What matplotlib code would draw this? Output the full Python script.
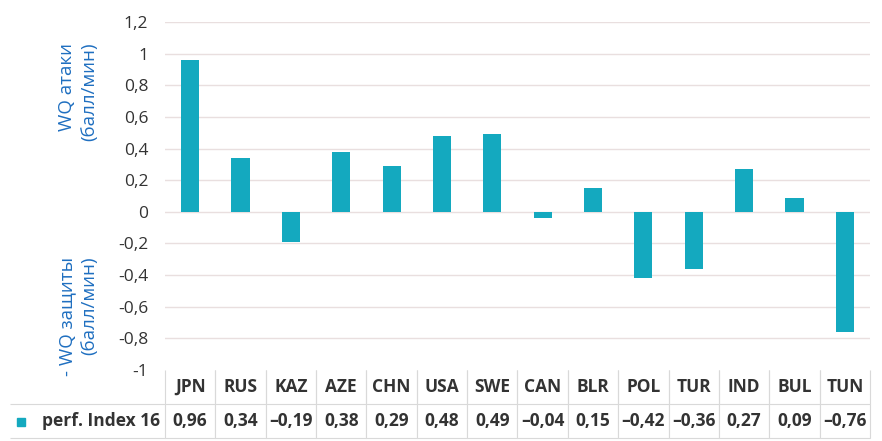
import numpy as np
import matplotlib.pyplot as plt
from matplotlib.lines import Line2D

countries = ['JPN', 'RUS', 'KAZ', 'AZE', 'CHN', 'USA', 'SWE', 'CAN',
             'BLR', 'POL', 'TUR', 'IND', 'BUL', 'TUN']
perf = [0.96, 0.34, -0.19, 0.38, 0.29, 0.48, 0.49, -0.04,
        0.15, -0.42, -0.36, 0.27, 0.09, -0.76]
series_name = 'perf. Index 16'
yticks = [-1, -0.8, -0.6, -0.4, -0.2, 0, 0.2, 0.4, 0.6, 0.8, 1, 1.2]

bar_color = '#14a9bf'
label_color = '#1f6fc0'
text_color = '#333333'
grid_color = '#e9dfdf'
font = 'Open Sans'


def fmt(v):
    s = ('%g' % v).replace('.', ',')
    return s.replace('-', '\u2013') if v < 0 else s


fig = plt.figure(figsize=(8.82, 4.41), dpi=100)
ax = fig.add_axes([165 / 882, 1 - 370 / 441, 705 / 882, 348 / 441])

x = np.arange(len(countries))
ax.bar(x, perf, width=0.36, color=bar_color, zorder=3)
ax.set_xlim(-0.5, len(countries) - 0.5)
ax.set_ylim(-1, 1.2)
ax.set_yticks(yticks)
ax.set_yticklabels([('%g' % t).replace('.', ',') for t in yticks],
                   fontsize=12.5, color=text_color, family=font)
ax.set_xticks([])
ax.tick_params(axis='y', length=0, pad=12)
for s in ax.spines.values():
    s.set_visible(False)
for t in yticks[1:]:
    ax.axhline(t, color=grid_color, lw=1, zorder=1)

# axis captions for attack (top) and defence (bottom)
fig.text(78 / 882, 1 - 92 / 441, 'WQ атаки\n(балл/мин)', rotation=90,
         ha='center', va='center', multialignment='right', fontsize=13.5,
         color=label_color, family=font, linespacing=1.25)
fig.text(78 / 882, 1 - 316 / 441, '- WQ защиты\n(балл/мин)', rotation=90,
         ha='center', va='center', multialignment='right', fontsize=13.5,
         color=label_color, family=font, linespacing=1.25)

# data table below the plot
cells = [[''] + countries, [series_name] + [fmt(v) for v in perf]]
left = (10 - 165) / 705
tbl = ax.table(cellText=cells, cellLoc='center',
               colWidths=[155] + [705 / 14] * 14,
               bbox=[left, -68 / 348, (870 - 10) / 705, 68 / 348])
tbl.auto_set_font_size(False)
for (r, c), cell in tbl.get_celld().items():
    cell.set_edgecolor('#d9d9d9')
    cell.set_linewidth(0.8)
    cell.get_text().set_fontsize(12.5)
    cell.get_text().set_fontweight('bold')
    cell.get_text().set_family(font)
    cell.get_text().set_color(text_color)
    if r == 0:
        cell.visible_edges = '' if c == 0 else 'LR'
    else:
        cell.visible_edges = 'TB' if c == 0 else 'LRTB'
    if c == 0 and r == 1:
        cell.get_text().set_ha('right')
        cell._loc = 'right'
        cell.PAD = 0.03

# legend key square
fig.add_artist(Line2D([21 / 882], [1 - 422 / 441], marker='s', markersize=6,
                      color=bar_color, transform=fig.transFigure))

fig.savefig('out.png', dpi=100)
